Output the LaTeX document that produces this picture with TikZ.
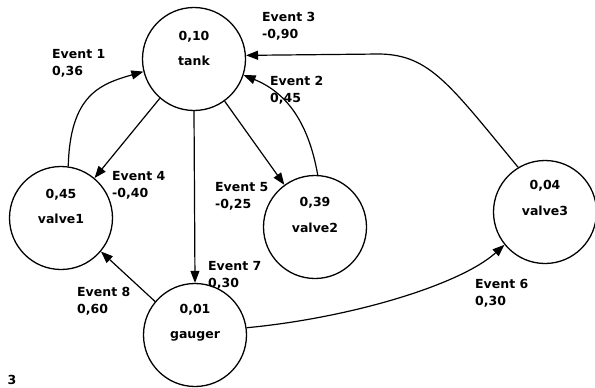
\documentclass[tikz,border=0pt]{standalone}
\usepackage{fontspec}
\setmainfont{DejaVu Sans}
\usetikzlibrary{arrows.meta}
\begin{document}
\begin{tikzpicture}[x=1pt,y=-1pt,
  state/.style={circle,draw,line width=1.3pt,minimum size=103pt,inner sep=0pt},
  txt/.style={font=\fontsize{12.5}{17}\selectfont\bfseries,inner sep=0pt,anchor=base},
  evlabel/.style={font=\fontsize{12.5}{17}\selectfont\bfseries,inner sep=0pt,anchor=north west,align=left},
  conn/.style={line width=1.2pt,-{Triangle[length=12pt,width=9pt]}}]
\useasboundingbox (0,0) rectangle (595,388);
% states
\node[state] (tank) at (194,59) {};
\node[state] (valve1) at (61,218) {};
\node[state] (valve2) at (315,227) {};
\node[state] (valve3) at (545,212) {};
\node[state] (gauger) at (195,335) {};
% texts inside
\node[txt] (tankv) at (194,40) {0,10};
\node[txt] (tankn) at (194,65) {tank};
\node[txt] (valve1v) at (61,198) {0,45};
\node[txt] (valve1n) at (61,223) {valve1};
\node[txt] (valve2v) at (315,206) {0,39};
\node[txt] (valve2n) at (315,232) {valve2};
\node[txt] (valve3v) at (545,189) {0,04};
\node[txt] (valve3n) at (545,215) {valve3};
\node[txt] (gaugerv) at (195,313) {0,01};
\node[txt] (gaugern) at (195,338) {gauger};
% connectors
\draw[conn] (valve1.82) .. controls (70,95) and (100,84) .. (tank.194);
\draw[conn] (tank.229) -- (valve1.50);
\draw[conn] (tank.south) -- (gauger.north);
\draw[conn] (tank.306) -- (valve2.126);
\draw[conn] (valve2.87) .. controls (308,120) and (285,92) .. (tank.342);
\coordinate (c3) at (380,54);
\draw[conn] (valve3.121) .. controls (450,85) and (430,55) .. (c3) -- (tank.4);
\draw[conn] (gauger.8) .. controls (350,318) and (460,285) .. (valve3.219);
\draw[conn] (gauger.140) -- (valve1.320);
% labels
\node[evlabel] (l1) at (52,49) {Event 1\\0,36};
\node[evlabel] (l2) at (270,76) {Event 2\\0,45};
\node[evlabel] (l3) at (262,12) {Event 3\\-0,90};
\node[evlabel] (l4) at (112,171) {Event 4\\-0,40};
\node[evlabel] (l5) at (215,182) {Event 5\\-0,25};
\node[evlabel] (l6) at (475,279) {Event 6\\0,30};
\node[evlabel] (l7) at (208,261) {Event 7\\0,30};
\node[evlabel] (l8) at (77,287) {Event 8\\0,60};
\node[txt] (fig) at (12,384) {3};
\end{tikzpicture}
\end{document}
